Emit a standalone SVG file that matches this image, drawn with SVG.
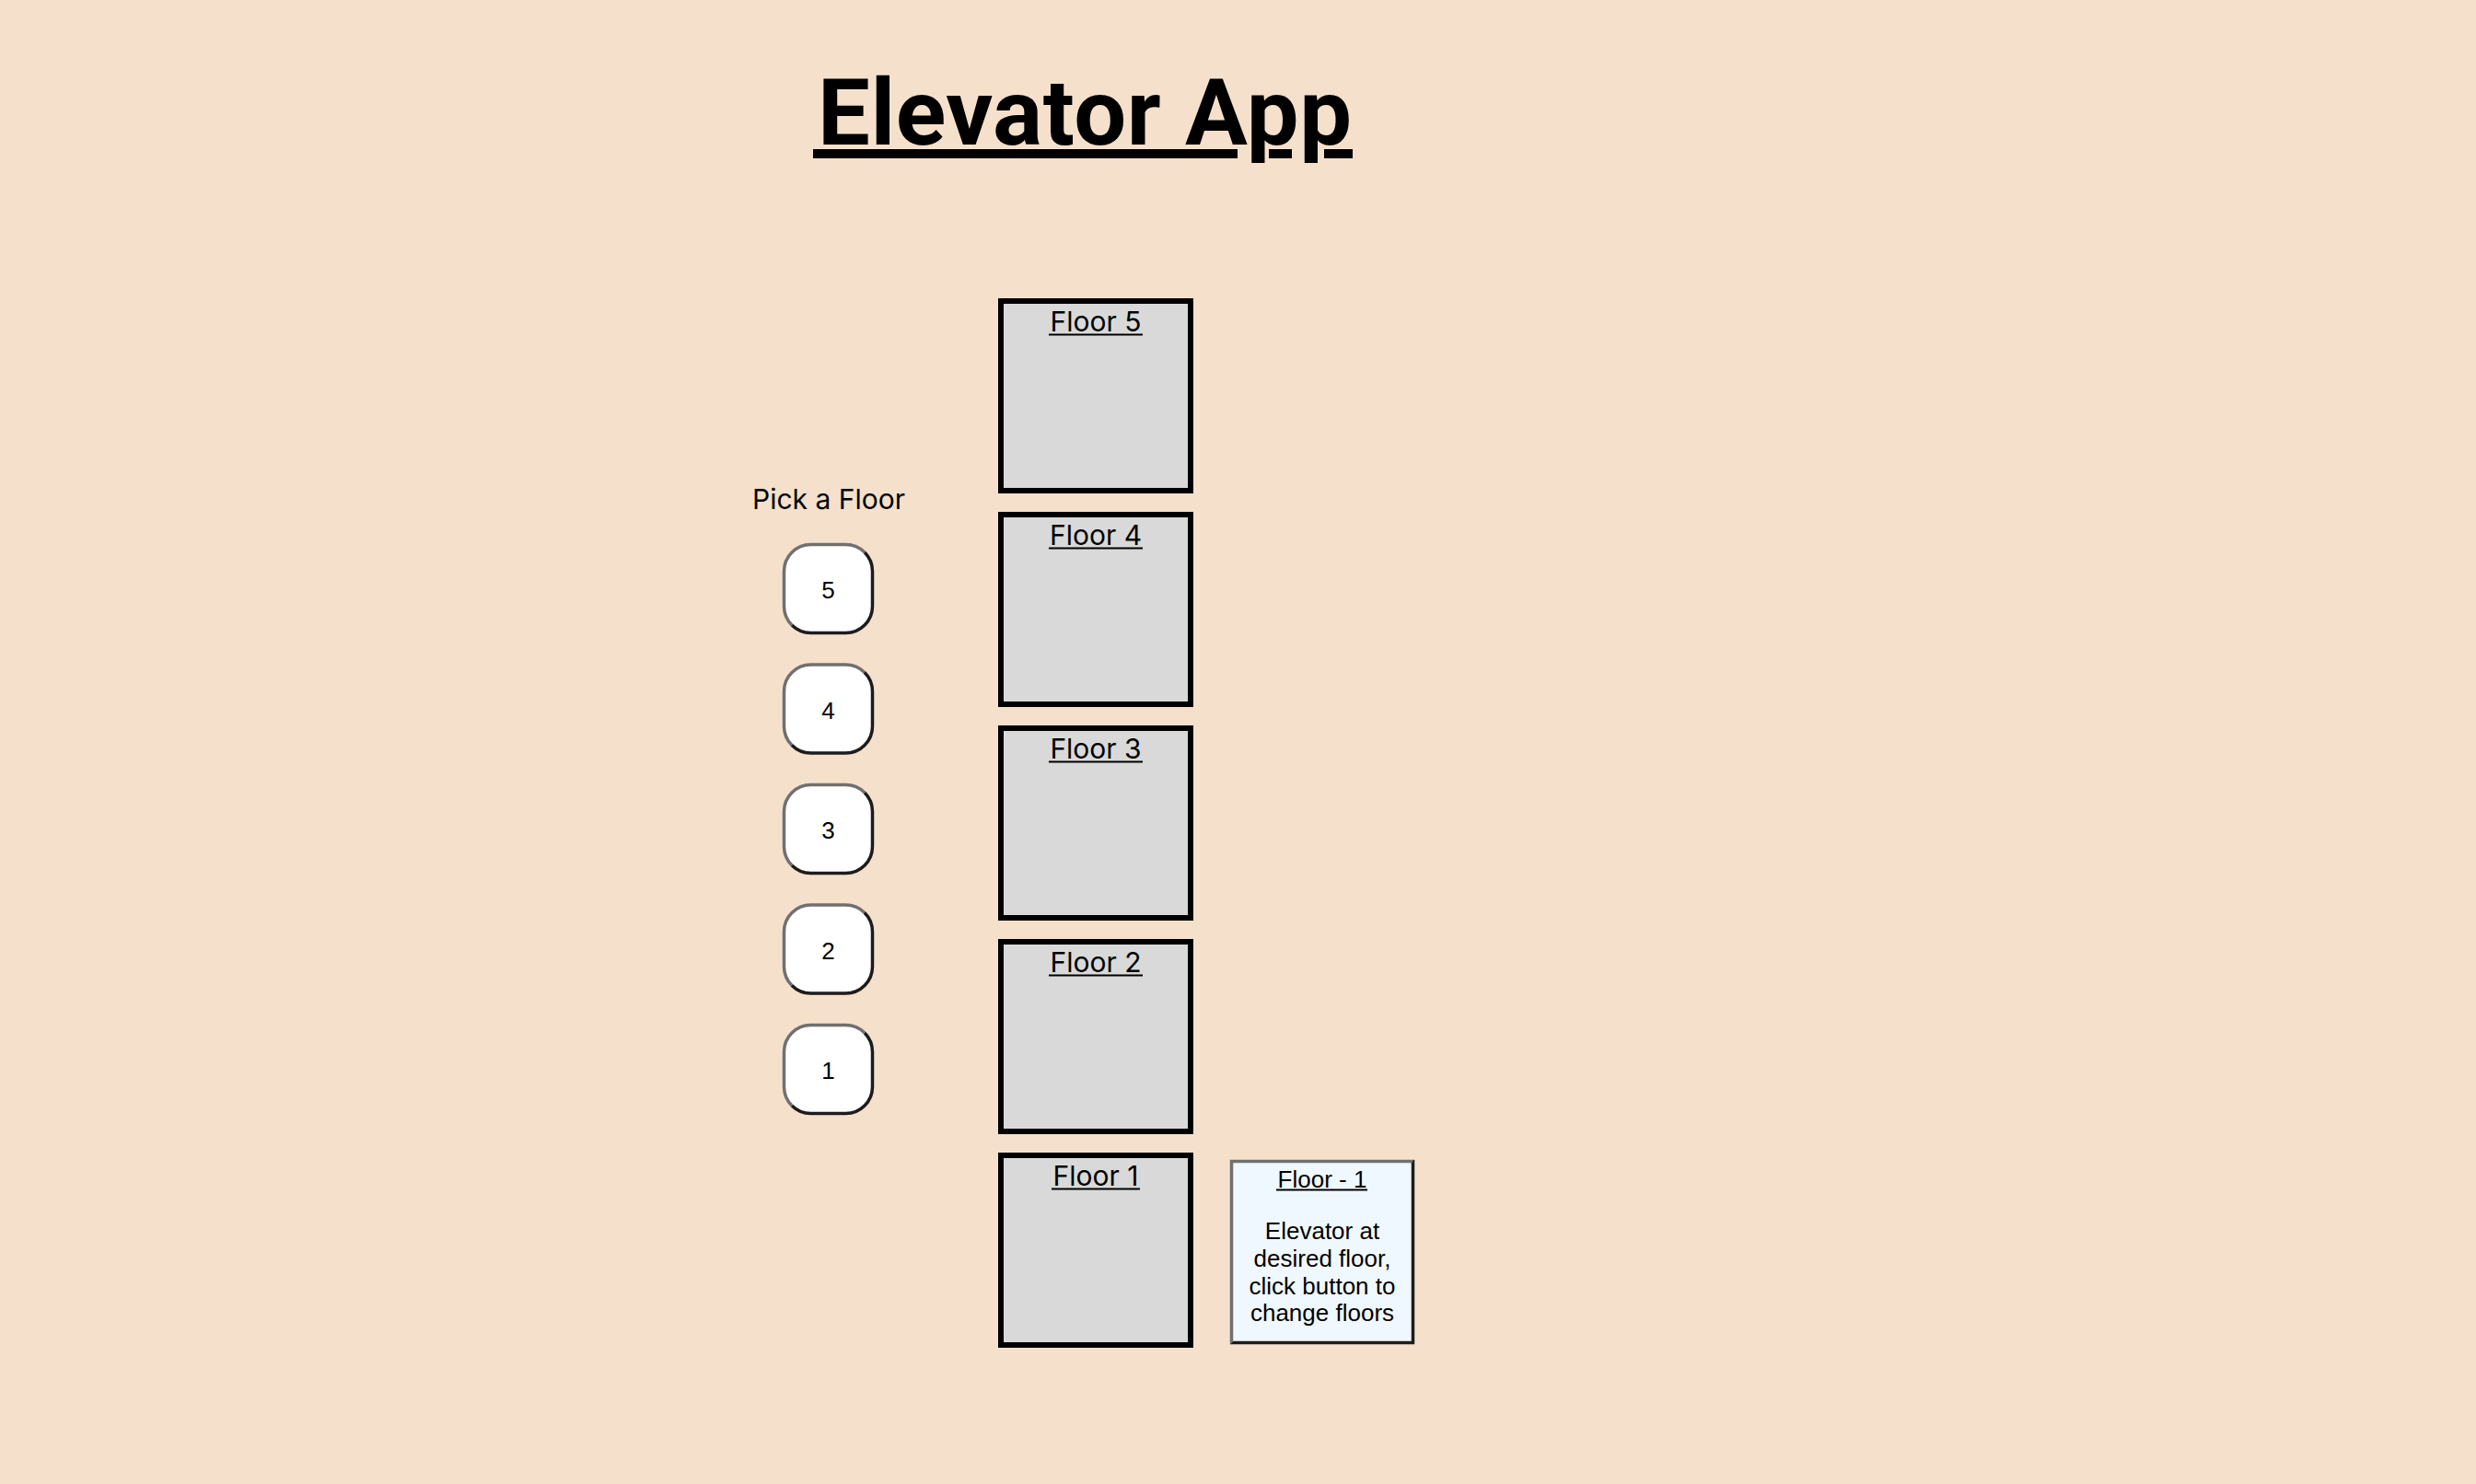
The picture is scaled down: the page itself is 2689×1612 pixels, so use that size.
<svg xmlns="http://www.w3.org/2000/svg" width="2689" height="1612" viewBox="0 0 2689 1612">
  <defs>
    <linearGradient id="bevel" x1="0" y1="0" x2="1" y2="1">
      <stop offset="0" stop-color="#707070"/>
      <stop offset="0.5" stop-color="#707070"/>
      <stop offset="0.5" stop-color="#1c1c1c"/>
      <stop offset="1" stop-color="#1c1c1c"/>
    </linearGradient>
  </defs>
  <style>
    .title { font-family: Roboto, "Liberation Sans", Arial, sans-serif; font-weight: 700; font-size: 101px; fill: #000; }
    .ui { font-family: Inter, "Noto Sans", sans-serif; font-size: 30px; fill: #000; }
    .floor { fill: #d9d9d9; stroke: #000; stroke-width: 6; }
    .btn { fill: #fff; stroke: url(#bevel); stroke-width: 3.5; }
    .btntxt { font-family: "Liberation Sans", Arial, sans-serif; font-size: 26px; fill: #000; text-anchor: middle; }
    .info { fill: #f0f8ff; stroke: url(#bevel); stroke-width: 3.5; }
    .infotxt { font-family: "Liberation Sans", Arial, sans-serif; font-size: 26px; fill: #000; text-anchor: middle; }
    .ul { stroke: #000; stroke-width: 2; }
  </style>
  <rect x="0" y="0" width="2689" height="1612" fill="#f5e0cc"/>

  <g id="title">
    <text class="title" x="888" y="157" textLength="580">Elevator App</text>
    <rect x="883" y="162" width="461" height="10" fill="#000"/>
    <rect x="1378" y="162" width="25" height="10" fill="#000"/>
    <rect x="1438" y="162" width="31" height="10" fill="#000"/>
  </g>

  <g id="pick-label">
    <text class="ui" x="900" y="553" text-anchor="middle">Pick a Floor</text>
  </g>

  <g id="btn-5">
    <rect class="btn" x="851.5" y="591.5" width="96" height="96" rx="29"/>
    <text class="btntxt" x="899.5" y="650">5</text>
  </g>
  <g id="btn-4">
    <rect class="btn" x="851.5" y="722" width="96" height="96" rx="29"/>
    <text class="btntxt" x="899.5" y="780.5">4</text>
  </g>
  <g id="btn-3">
    <rect class="btn" x="851.5" y="852.5" width="96" height="96" rx="29"/>
    <text class="btntxt" x="899.5" y="911">3</text>
  </g>
  <g id="btn-2">
    <rect class="btn" x="851.5" y="983" width="96" height="96" rx="29"/>
    <text class="btntxt" x="899.5" y="1041.5">2</text>
  </g>
  <g id="btn-1">
    <rect class="btn" x="851.5" y="1113.5" width="96" height="96" rx="29"/>
    <text class="btntxt" x="899.5" y="1172">1</text>
  </g>

  <g id="floor-5">
    <rect class="floor" x="1087" y="327" width="206" height="206"/>
    <text class="ui" x="1190" y="360" text-anchor="middle">Floor 5</text>
    <line class="ul" x1="1139" y1="363.5" x2="1241" y2="363.5"/>
  </g>
  <g id="floor-4">
    <rect class="floor" x="1087" y="559" width="206" height="206"/>
    <text class="ui" x="1190" y="592" text-anchor="middle">Floor 4</text>
    <line class="ul" x1="1139" y1="595.5" x2="1241" y2="595.5"/>
  </g>
  <g id="floor-3">
    <rect class="floor" x="1087" y="791" width="206" height="206"/>
    <text class="ui" x="1190" y="824" text-anchor="middle">Floor 3</text>
    <line class="ul" x1="1139" y1="827.5" x2="1241" y2="827.5"/>
  </g>
  <g id="floor-2">
    <rect class="floor" x="1087" y="1023" width="206" height="206"/>
    <text class="ui" x="1190" y="1056" text-anchor="middle">Floor 2</text>
    <line class="ul" x1="1139" y1="1059.5" x2="1241" y2="1059.5"/>
  </g>
  <g id="floor-1">
    <rect class="floor" x="1087" y="1255" width="206" height="206"/>
    <text class="ui" x="1190" y="1288" text-anchor="middle">Floor 1</text>
    <line class="ul" x1="1142" y1="1291.5" x2="1238" y2="1291.5"/>
  </g>

  <g id="info-box">
    <rect class="info" x="1337.5" y="1261.5" width="197" height="197"/>
    <text class="infotxt" x="1436" y="1290">Floor - 1</text>
    <line class="ul" x1="1386" y1="1292.5" x2="1485" y2="1292.5"/>
    <text class="infotxt" x="1436" y="1346">Elevator at</text>
    <text class="infotxt" x="1436" y="1376">desired floor,</text>
    <text class="infotxt" x="1436" y="1406">click button to</text>
    <text class="infotxt" x="1436" y="1435">change floors</text>
  </g>

  <g id="connectors"/>
</svg>
